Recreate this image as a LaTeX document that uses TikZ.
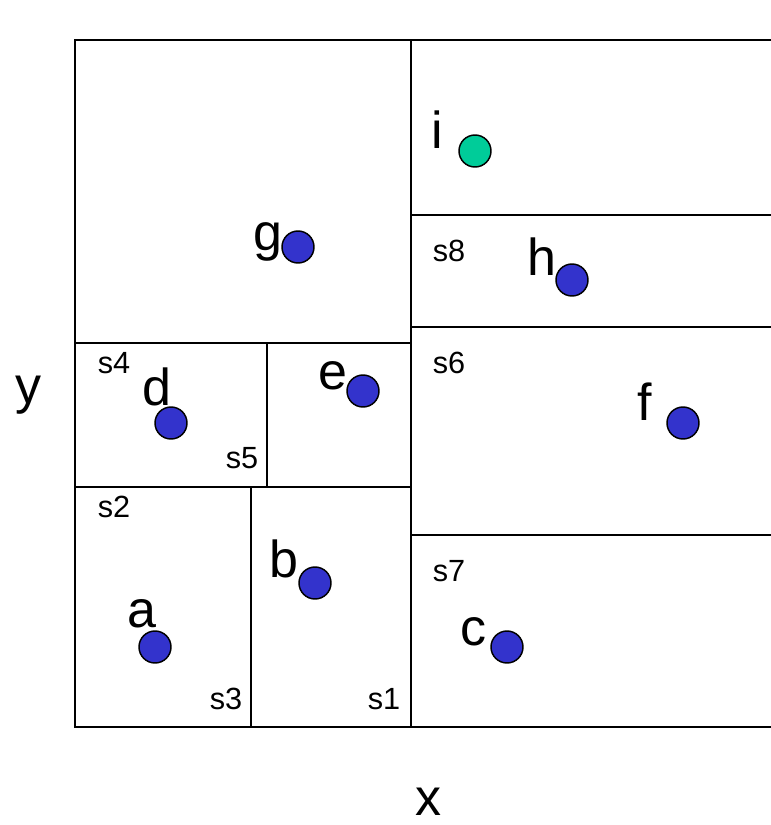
\documentclass[tikz,border=0pt]{standalone}
\usepackage{fontspec}
\setmainfont{Liberation Sans}
\definecolor{ptblue}{HTML}{3333CC}
\definecolor{ptteal}{HTML}{00CC99}
\begin{document}
\begin{tikzpicture}[x=0.75pt,y=-0.75pt,
  grid/.style={line width=1.5pt,black},
  pt/.style={circle,draw=black,line width=1.1pt,fill=ptblue,minimum size=32*0.75pt,inner sep=0pt},
  ptg/.style={pt,fill=ptteal},
  big/.style={font=\fontsize{39}{40}\selectfont,anchor=base,inner sep=0pt},
  small/.style={font=\fontsize{23}{24}\selectfont,anchor=base,inner sep=0pt}]
\useasboundingbox (0,0) rectangle (771,825);
% frame and partitions
\draw[grid] (771,40) -- (75,40) -- (75,727) -- (771,727);
\draw[grid] (411,40) -- (411,727);
\draw[grid] (75,343) -- (411,343);
\draw[grid] (75,487) -- (411,487);
\draw[grid] (267,343) -- (267,487);
\draw[grid] (251,487) -- (251,727);
\draw[grid] (411,215) -- (771,215);
\draw[grid] (411,327) -- (771,327);
\draw[grid] (411,535) -- (771,535);
% points
\node[ptg] (pi) at (475,151) {};
\node[pt] (pg) at (298,247) {};
\node[pt] (ph) at (572,280) {};
\node[pt] (pd) at (171,423) {};
\node[pt] (pe) at (363,391) {};
\node[pt] (pf) at (683,423) {};
\node[pt] (pb) at (315,583) {};
\node[pt] (pa) at (155,647) {};
\node[pt] (pc) at (507,647) {};
% point labels
\node[big] (li) at (437,148) {i};
\node[big] (lg) at (268,250) {g};
\node[big] (lh) at (542,275) {h};
\node[big] (ld) at (157,405) {d};
\node[big] (le) at (333,389) {e};
\node[big] (lf) at (645,420) {f};
\node[big] (lb) at (284,577) {b};
\node[big] (la) at (142,627) {a};
\node[big] (lc) at (473,645) {c};
% region labels
\node[small] (s8) at (449,261) {s8};
\node[small] (s4) at (114,373) {s4};
\node[small] (s6) at (449,373) {s6};
\node[small] (s5) at (242,468) {s5};
\node[small] (s2) at (114,517) {s2};
\node[small] (s7) at (449,581) {s7};
\node[small] (s3) at (226,709) {s3};
\node[small] (s1) at (384,709) {s1};
% axes
\node[big] (ly) at (29,403) {y};
\node[big,text depth=0pt] (lx) at (428,815) {x};
\end{tikzpicture}
\end{document}
